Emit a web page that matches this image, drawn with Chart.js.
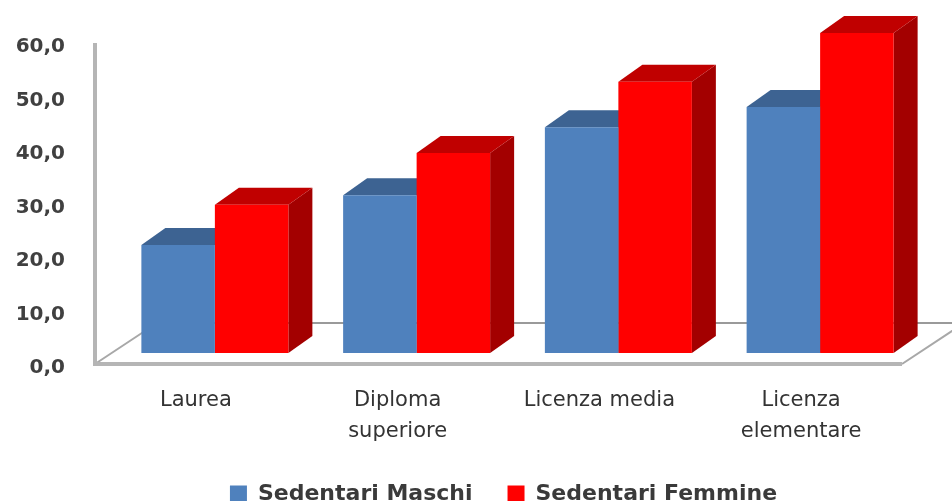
<!DOCTYPE html>
<html lang="it">
<head>
<meta charset="utf-8">
<title>Sedentari per titolo di studio</title>
<script src="https://cdn.jsdelivr.net/npm/chart.js@4.4.1/dist/chart.umd.min.js"></script>
<style>
  html, body { margin: 0; padding: 0; background: #fff; overflow: hidden; }
  #wrap { position: relative; width: 952px; height: 501px; }
</style>
</head>
<body>
<div id="wrap"><canvas id="chart"></canvas></div>
<script>
// titoli di studio (etichette su due righe dove serve)
const categorie = [['Laurea'], ['Diploma', 'superiore'], ['Licenza media'], ['Licenza', 'elementare']];
const maschi = [20.2, 29.5, 42.2, 46.0];
const femmine = [27.7, 37.4, 50.7, 59.8];
const tickValori = [0, 10, 20, 30, 40, 50, 60];

// colori: faccia frontale, faccia superiore, fianco
const coloriFronte = ['#4F81BD', '#FF0000'];
const coloriTop = ['#3D6392', '#C00000'];
const coloriLato = ['#35577F', '#A30000'];

// profondità finta 3D (in pixel)
const PIANO = { dx: -19, dy: 11 };   // piano frontale rispetto alle barre
const FONDO = { dx: 62, dy: -41 };   // profondità del pavimento
const BARRA = { dx: 24, dy: -17 };   // spessore delle colonne

const barre3d = {
    id: 'barre3d',
    afterLayout(chart) {
        // la legenda è un po' spostata a destra rispetto al centro
        chart.legend.left += 55;
    },
    beforeDatasetsDraw(chart) {
        const { ctx, chartArea: a, scales: { y } } = chart;
        const x0 = a.left + PIANO.dx;
        const x1 = a.right + PIANO.dx;
        const yBase = y.getPixelForValue(tickValori[0]) + PIANO.dy;
        const yTop = y.getPixelForValue(tickValori[tickValori.length - 1]) + PIANO.dy;

        ctx.save();
        ctx.lineCap = 'butt';
        // linea di fondo del pavimento
        ctx.strokeStyle = '#9a9a9a';
        ctx.lineWidth = 2;
        ctx.beginPath();
        ctx.moveTo(x0 + FONDO.dx, yBase + FONDO.dy);
        ctx.lineTo(x1 + FONDO.dx, yBase + FONDO.dy);
        ctx.stroke();
        // spigoli laterali del pavimento
        ctx.strokeStyle = '#a8a8a8';
        ctx.beginPath();
        ctx.moveTo(x0, yBase);
        ctx.lineTo(x0 + FONDO.dx, yBase + FONDO.dy);
        ctx.moveTo(x1, yBase);
        ctx.lineTo(x1 + FONDO.dx, yBase + FONDO.dy);
        ctx.stroke();
        // asse verticale e bordo frontale
        ctx.strokeStyle = '#b5b5b5';
        ctx.lineWidth = 4;
        ctx.beginPath();
        ctx.moveTo(x0, yTop);
        ctx.lineTo(x0, yBase);
        ctx.lineTo(x1, yBase);
        ctx.stroke();

        // facce superiori e fianchi delle colonne
        chart.data.datasets.forEach((ds, i) => {
            const meta = chart.getDatasetMeta(i);
            meta.data.forEach(bar => {
                const { x, y: top, base, width } = bar.getProps(['x', 'y', 'base', 'width'], true);
                const l = x - width / 2, r = x + width / 2;
                ctx.fillStyle = coloriLato[i];
                ctx.beginPath();
                ctx.moveTo(r, top);
                ctx.lineTo(r + BARRA.dx, top + BARRA.dy);
                ctx.lineTo(r + BARRA.dx, base + BARRA.dy);
                ctx.lineTo(r, base);
                ctx.closePath();
                ctx.fill();
                ctx.fillStyle = coloriTop[i];
                ctx.beginPath();
                ctx.moveTo(l, top);
                ctx.lineTo(r, top);
                ctx.lineTo(r + BARRA.dx, top + BARRA.dy);
                ctx.lineTo(l + BARRA.dx, top + BARRA.dy);
                ctx.closePath();
                ctx.fill();
            });
        });
        ctx.restore();
    }
};

Chart.defaults.font.family = "'DejaVu Sans', sans-serif";

new Chart(document.getElementById('chart'), {
    type: 'bar',
    data: {
        labels: categorie,
        datasets: [
            {
                label: 'Sedentari Maschi',
                data: maschi,
                backgroundColor: coloriFronte[0],
                borderWidth: 0
            },
            {
                label: 'Sedentari Femmine',
                data: femmine,
                backgroundColor: coloriFronte[1],
                borderWidth: 0
            }
        ]
    },
    options: {
        responsive: true,
        maintainAspectRatio: false,
        animation: false,
        events: [],
        layout: { padding: { top: 32, left: 0, right: 0, bottom: 0 } },
        datasets: {
            bar: { barPercentage: 1, categoryPercentage: 0.7286 }
        },
        plugins: {
            tooltip: { enabled: false },
            legend: {
                position: 'bottom',
                maxHeight: 53,
                labels: {
                    boxWidth: 17,
                    boxHeight: 17,
                    padding: 35,
                    color: '#3a3a3a',
                    font: { size: 22, weight: 'bold' }
                }
            }
        },
        scales: {
            x: {
                grid: { display: false, drawTicks: false },
                border: { display: false },
                ticks: {
                    color: '#333',
                    font: { size: 21, lineHeight: 1.48 },
                    padding: 32,
                    labelOffset: PIANO.dx,
                    maxRotation: 0,
                    autoSkip: false
                },
                afterFit: s => { s.height = 95; }
            },
            y: {
                min: tickValori[0],
                max: tickValori[tickValori.length - 1],
                grid: { display: false, drawTicks: false },
                border: { display: false },
                ticks: {
                    color: '#404040',
                    font: { size: 20, weight: 'bold' },
                    padding: 49,
                    labelOffset: PIANO.dy + 4,
                    callback: v => v.toFixed(1).replace('.', ',')
                },
                afterBuildTicks: s => { s.ticks = tickValori.map(v => ({ value: v })); },
                afterFit: s => {
                    s.width = 114;
                    s.paddingTop = 0;
                    s.paddingBottom = 0;
                }
            },
            destra: {
                type: 'linear',
                position: 'right',
                grid: { display: false, drawTicks: false },
                border: { display: false },
                ticks: { display: false },
                afterFit: s => { s.width = 31; }
            }
        }
    },
    plugins: [barre3d]
});
</script>
</body>
</html>
